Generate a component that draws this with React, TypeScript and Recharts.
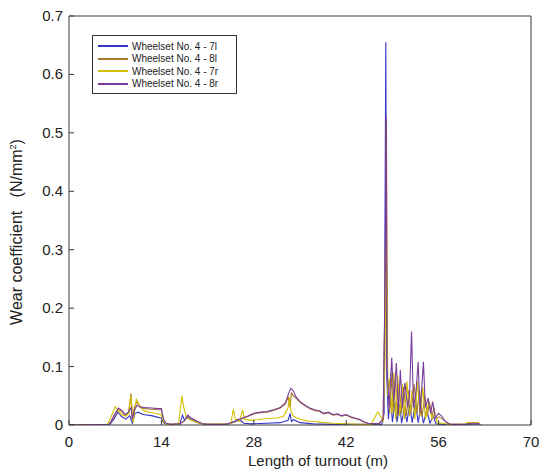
// @ts-nocheck
import React from "react";
import {
  LineChart,
  Line,
  XAxis,
  YAxis,
  ReferenceLine,
} from "recharts";

// distance along turnout (m) / wear coefficient (N/mm²) pairs
const wheelset7l = [
  [0, 0], [6.2, 0.001], [6.8, 0.01], [7.4, 0.022], [8.0, 0.014], [8.6, 0.01], [9.2, 0.016],
  [9.6, 0.003], [10.0, 0.02], [10.5, 0.022], [11.2, 0.018], [12.5, 0.016], [13.5, 0.013],
  [14.0, 0.012], [14.3, 0.004], [14.8, 0.001], [16.8, 0.001], [17.0, 0.01], [17.2, 0.017],
  [17.5, 0.008], [17.9, 0.014], [18.3, 0.01], [19.0, 0.006], [19.8, 0.003], [20.5, 0.001],
  [24.0, 0.001], [25.0, 0.005], [25.6, 0.01], [26.2, 0.006], [26.5, 0.003], [27.5, 0.002],
  [30.0, 0.003], [32.0, 0.004], [33.2, 0.008], [33.5, 0.02], [33.7, 0.006], [34.0, 0.009],
  [35.0, 0.004], [37.0, 0.002], [40.0, 0.001], [47.4, 0.001], [47.75, 0.02], [48.0, 0.655],
  [48.15, 0.08], [48.4, 0.01], [48.7, 0.05], [49.0, 0.005], [49.4, 0.04], [49.7, 0.005],
  [50.1, 0.035], [50.4, 0.003], [50.8, 0.03], [51.2, 0.005], [51.6, 0.035], [52.0, 0.004],
  [52.5, 0.04], [52.9, 0.004], [53.3, 0.03], [53.7, 0.003], [54.2, 0.025], [54.7, 0.003],
  [55.2, 0.015], [55.6, 0.002], [56.5, 0.001], [62.5, 0],
];

const wheelset8l = [
  [0, 0], [6.0, 0.001], [6.3, 0.004], [7.0, 0.018], [7.5, 0.027], [8.0, 0.023], [8.5, 0.016],
  [9.0, 0.02], [9.4, 0.054], [9.6, 0.008], [9.9, 0.03], [10.3, 0.04], [10.8, 0.03], [11.5, 0.028],
  [12.5, 0.027], [13.5, 0.026], [14.0, 0.026], [14.3, 0.008], [14.7, 0.002], [15.5, 0.001],
  [16.8, 0.002], [17.5, 0.007], [18.0, 0.016], [18.5, 0.011], [19.0, 0.008], [19.5, 0.005],
  [20.2, 0.002], [21.0, 0.001], [23.5, 0.001], [24.5, 0.003], [25.5, 0.007], [26.3, 0.011],
  [27.0, 0.014], [28.0, 0.019], [29.0, 0.021], [30.0, 0.022], [31.0, 0.025], [32.0, 0.029],
  [32.8, 0.036], [33.2, 0.048], [33.5, 0.03], [33.7, 0.055], [34.0, 0.05], [34.4, 0.046],
  [35.0, 0.039], [35.5, 0.035], [36.0, 0.031], [36.5, 0.028], [37.2, 0.025], [38.0, 0.023],
  [38.6, 0.019], [39.3, 0.021], [40.0, 0.017], [40.7, 0.018], [41.3, 0.015], [42.0, 0.017],
  [42.7, 0.013], [43.3, 0.011], [44.0, 0.009], [44.6, 0.005], [45.3, 0.003], [46.0, 0.002],
  [47.0, 0.002], [47.6, 0.01], [47.85, 0.2], [48.1, 0.52], [48.25, 0.08], [48.6, 0.02],
  [48.8, 0.09], [49.1, 0.02], [49.4, 0.08], [49.8, 0.015], [50.0, 0.07], [50.4, 0.02],
  [50.7, 0.065], [51.1, 0.015], [51.5, 0.06], [51.8, 0.02], [52.3, 0.07], [52.7, 0.02],
  [53.1, 0.06], [53.5, 0.015], [53.9, 0.05], [54.3, 0.015], [54.6, 0.04], [55.0, 0.015],
  [55.3, 0.03], [55.6, 0.01], [56.1, 0.014], [56.6, 0.01], [57.2, 0.005], [57.8, 0.001],
  [60.0, 0.001], [60.5, 0.003], [62.0, 0.003], [62.3, 0.001],
];

const wheelset7r = [
  [0, 0], [5.8, 0.001], [6.3, 0.012], [7.0, 0.031], [7.4, 0.026], [8.0, 0.017], [8.6, 0.015],
  [9.1, 0.02], [9.35, 0.05], [9.5, 0.035], [9.7, 0.004], [10.2, 0.044], [10.6, 0.035],
  [11.2, 0.025], [12.0, 0.022], [13.0, 0.02], [14.0, 0.017], [14.3, 0.006], [14.8, 0.001],
  [16.6, 0.001], [17.0, 0.04], [17.1, 0.05], [17.4, 0.03], [17.8, 0.012], [18.5, 0.008],
  [19.5, 0.004], [20.5, 0.001], [24.5, 0.002], [24.9, 0.027], [25.2, 0.01], [25.8, 0.006],
  [26.3, 0.026], [26.6, 0.01], [27.5, 0.008], [28.5, 0.009], [30.0, 0.011], [31.5, 0.012],
  [32.5, 0.015], [33.2, 0.03], [33.4, 0.048], [33.6, 0.025], [34.0, 0.015], [35.0, 0.01],
  [36.0, 0.007], [37.0, 0.006], [38.0, 0.005], [40.0, 0.003], [42.0, 0.002], [44.0, 0.001],
  [45.8, 0.001], [46.3, 0.012], [46.8, 0.023], [47.2, 0.015], [47.6, 0.005], [47.9, 0.12],
  [48.1, 0.37], [48.3, 0.05], [48.6, 0.08], [48.9, 0.02], [49.2, 0.09], [49.5, 0.01],
  [49.8, 0.085], [50.1, 0.015], [50.5, 0.07], [50.8, 0.01], [51.2, 0.075], [51.6, 0.015],
  [52.0, 0.06], [52.4, 0.01], [52.8, 0.075], [53.2, 0.015], [53.6, 0.065], [54.0, 0.01],
  [54.5, 0.04], [55.0, 0.01], [55.4, 0.02], [55.8, 0.004], [56.5, 0.003], [57.5, 0.001],
  [60.0, 0.001], [60.4, 0.004], [62.0, 0.004], [62.3, 0.001],
];

const wheelset8r = [
  [0, 0], [6.0, 0.001], [6.3, 0.005], [7.0, 0.02], [7.5, 0.029], [8.0, 0.025], [8.5, 0.018],
  [9.0, 0.022], [9.4, 0.03], [9.6, 0.01], [9.9, 0.025], [10.3, 0.034], [10.8, 0.031],
  [11.5, 0.03], [12.5, 0.029], [13.5, 0.028], [14.0, 0.028], [14.3, 0.01], [14.7, 0.003],
  [15.5, 0.001], [16.8, 0.002], [17.5, 0.008], [18.0, 0.017], [18.5, 0.012], [19.0, 0.009],
  [19.5, 0.006], [20.2, 0.002], [21.0, 0.001], [23.5, 0.001], [24.5, 0.004], [25.5, 0.008],
  [26.3, 0.012], [27.0, 0.015], [28.0, 0.02], [29.0, 0.022], [30.0, 0.023], [31.0, 0.026],
  [32.0, 0.03], [32.8, 0.038], [33.3, 0.055], [33.6, 0.063], [34.0, 0.058], [34.4, 0.048],
  [35.0, 0.04], [35.5, 0.036], [36.0, 0.032], [36.5, 0.029], [37.2, 0.026], [38.0, 0.024],
  [38.6, 0.02], [39.3, 0.022], [40.0, 0.018], [40.7, 0.019], [41.3, 0.016], [42.0, 0.018],
  [42.7, 0.014], [43.3, 0.012], [44.0, 0.01], [44.6, 0.006], [45.3, 0.003], [46.0, 0.002],
  [47.0, 0.003], [47.6, 0.01], [47.9, 0.25], [48.05, 0.527], [48.2, 0.1], [48.5, 0.03],
  [48.9, 0.115], [49.2, 0.04], [49.6, 0.106], [49.9, 0.02], [50.2, 0.094], [50.5, 0.03],
  [50.9, 0.072], [51.3, 0.03], [51.6, 0.05], [51.9, 0.16], [52.2, 0.03], [52.6, 0.06],
  [52.9, 0.108], [53.2, 0.02], [53.7, 0.108], [54.0, 0.03], [54.4, 0.046], [54.8, 0.02],
  [55.1, 0.04], [55.5, 0.012], [56.0, 0.02], [56.5, 0.015], [57.0, 0.006], [57.5, 0.002],
  [58.0, 0.001], [60.0, 0.001], [61.0, 0.003], [62.0, 0.003], [62.3, 0.001],
];

const seriesNames = [
  "Wheelset No. 4 - 7l",
  "Wheelset No. 4 - 8l",
  "Wheelset No. 4 - 7r",
  "Wheelset No. 4 - 8r",
];
const seriesColors = ["#3535c8", "#a87a2c", "#d4c000", "#7a3c9c"];
const xTicks = [0, 14, 28, 42, 56, 70];
const yTicks = [0, 0.1, 0.2, 0.3, 0.4, 0.5, 0.6, 0.7];

const allSeries = [wheelset7l, wheelset8l, wheelset7r, wheelset8r].map((pts) =>
  pts.map(([x, y]) => ({ x, y }))
);

const FONT = "'Liberation Sans', Arial, sans-serif";
const AXIS = "#3a3a3a";
const PLOT_LEFT = 69;
const PLOT_BOTTOM = 425;

const YTick = ({ y, payload }) => (
  <g>
    <line x1={PLOT_LEFT} x2={PLOT_LEFT + 5} y1={y} y2={y} stroke={AXIS} />
    <text x={PLOT_LEFT - 6} y={y + 5} textAnchor="end" fontSize={15} fill="#222" fontFamily={FONT}>
      {payload.value}
    </text>
  </g>
);

const XTick = ({ x, payload }) => (
  <g>
    <line x1={x} x2={x} y1={PLOT_BOTTOM} y2={PLOT_BOTTOM - 5} stroke={AXIS} />
    <text x={x} y={447} textAnchor="middle" fontSize={15} fill="#222" fontFamily={FONT}>
      {payload.value}
    </text>
  </g>
);

const LegendBox = () => (
  <div
    style={{
      position: "absolute",
      left: 92,
      top: 35,
      width: 143,
      height: 57,
      border: "1px solid #333",
      background: "#fff",
      fontFamily: FONT,
      fontSize: 10,
      color: "#222",
    }}
  >
    {seriesNames.map((name, i) => (
      <div
        key={name}
        style={{ position: "absolute", left: 5, top: 4 + i * 12.5, height: 12, display: "flex", alignItems: "center" }}
      >
        <span style={{ display: "inline-block", width: 30, height: 2, background: seriesColors[i], marginRight: 4 }} />
        <span style={{ whiteSpace: "nowrap" }}>{name}</span>
      </div>
    ))}
  </div>
);

export default function App() {
  return (
    <div style={{ position: "absolute", left: 0, top: 0, width: 550, height: 475, background: "#fff" }}>
      <LineChart width={550} height={475} margin={{ top: 16, right: 19, bottom: 0, left: 0 }}>
        <XAxis
          dataKey="x"
          type="number"
          domain={[0, 70]}
          ticks={xTicks}
          allowDataOverflow
          height={50}
          stroke={AXIS}
          tickLine={false}
          tick={<XTick />}
          label={{
            content: () => (
              <text x={318} y={466} textAnchor="middle" fontSize={15} fill="#222" fontFamily={FONT}>
                Length of turnout (m)
              </text>
            ),
          }}
        />
        <YAxis
          type="number"
          domain={[0, 0.7]}
          ticks={yTicks}
          allowDataOverflow
          width={69}
          stroke={AXIS}
          tickLine={false}
          tick={<YTick />}
          label={{
            content: () => (
              <text
                transform="translate(22, 232) rotate(-90)"
                textAnchor="middle"
                fontSize={16}
                fill="#222"
                fontFamily={FONT}
              >
                Wear coefficient{"\u00a0\u00a0\u00a0"}(N/mm
                <tspan dy={-6} fontSize={9}>2</tspan>
                <tspan dy={6}>)</tspan>
              </text>
            ),
          }}
        />
        <ReferenceLine y={0.7} stroke={AXIS} />
        <ReferenceLine x={70} stroke={AXIS} />
        {allSeries.map((data, i) => (
          <Line
            key={seriesNames[i]}
            data={data}
            dataKey="y"
            name={seriesNames[i]}
            type="linear"
            stroke={seriesColors[i]}
            strokeWidth={1.1}
            dot={false}
            activeDot={false}
            isAnimationActive={false}
          />
        ))}
      </LineChart>
      <LegendBox />
    </div>
  );
}
